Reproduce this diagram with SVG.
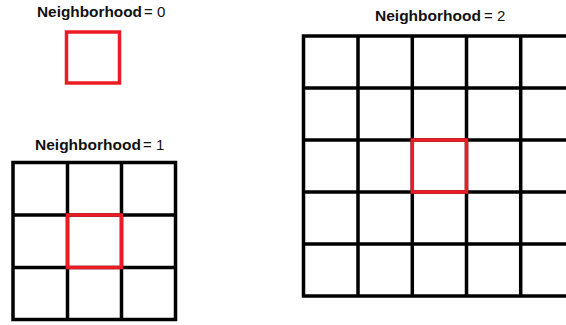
<svg xmlns="http://www.w3.org/2000/svg" width="566" height="325" viewBox="0 0 566 325">
<style>
.t{font-family:"Liberation Sans",Arial,sans-serif;font-size:15px;fill:#111}
.b{font-weight:bold}
.g{fill:none;stroke:#000;stroke-width:3.5}
.r{fill:none;stroke:#ed1c24;stroke-width:3.5}
</style>
<rect width="566" height="325" fill="#fff"/>
<g id="n0">
<text class="t" x="37" y="17"><tspan class="b" textLength="105" lengthAdjust="spacingAndGlyphs">Neighborhood</tspan><tspan x="144">= 0</tspan></text>
<rect class="r" x="66.5" y="32" width="53" height="51"/>
</g>
<g id="n1">
<text class="t" x="35" y="150"><tspan class="b" textLength="106" lengthAdjust="spacingAndGlyphs">Neighborhood</tspan><tspan x="143">= 1</tspan></text>
<rect class="g" x="13" y="162.5" width="162.5" height="157"/>
<path class="g" d="M67.5 162.5V319.5M121.5 162.5V319.5M13 215H175.5M13 267.5H175.5"/>
<rect class="r" x="67.5" y="215" width="54" height="52.5"/>
</g>
<g id="n2">
<text class="t" x="375" y="21"><tspan class="b" textLength="106" lengthAdjust="spacingAndGlyphs">Neighborhood</tspan><tspan x="484">= 2</tspan></text>
<rect class="g" x="303.5" y="36" width="272" height="260"/>
<path class="g" d="M358 36V296M412.3 36V296M466.5 36V296M520.7 36V296M303.5 88H575.5M303.5 140H575.5M303.5 192H575.5M303.5 244H575.5"/>
<rect class="r" x="412.3" y="140" width="54.2" height="52"/>
</g>
</svg>
